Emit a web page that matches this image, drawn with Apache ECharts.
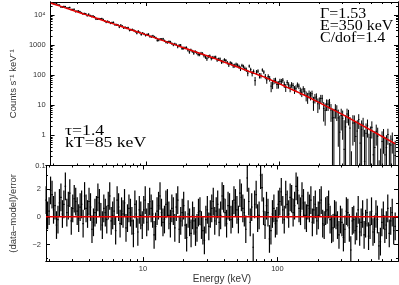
<!DOCTYPE html>
<html><head><meta charset="utf-8">
<script src="https://cdn.jsdelivr.net/npm/echarts@6/dist/echarts.min.js"></script>
<style>html,body{margin:0;padding:0;background:#fff}#c{width:399px;height:285px}</style>
</head><body><div id="c"></div>
<script>
// ---- data (energies and counts stored as log10 values) ----
const energyLog10 = [
0.280,0.291,0.302,0.313,0.324,0.335,0.346,0.357,0.368,0.379,0.390,0.401,0.412,0.423,0.434,0.445,0.456,0.467,0.478,0.489,
0.500,0.511,0.522,0.533,0.544,0.555,0.566,0.577,0.588,0.599,0.610,0.621,0.632,0.643,0.654,0.665,0.676,0.687,0.698,0.709,
0.720,0.731,0.742,0.753,0.764,0.775,0.786,0.797,0.808,0.819,0.830,0.841,0.852,0.863,0.874,0.885,0.896,0.907,0.918,0.929,
0.940,0.951,0.962,0.973,0.984,0.995,1.006,1.017,1.028,1.039,1.050,1.061,1.072,1.083,1.094,1.105,1.116,1.127,1.138,1.149,
1.160,1.171,1.182,1.193,1.204,1.215,1.226,1.237,1.248,1.259,1.270,1.281,1.292,1.303,1.314,1.325,1.336,1.347,1.358,1.369,
1.380,1.391,1.402,1.413,1.424,1.435,1.446,1.457,1.468,1.479,1.490,1.501,1.512,1.523,1.534,1.545,1.556,1.567,1.578,1.589,
1.600,1.611,1.622,1.633,1.644,1.655,1.666,1.677,1.688,1.699,1.710,1.721,1.732,1.743,1.754,1.765,1.776,1.787,1.798,1.809,
1.820,1.831,1.842,1.853,1.864,1.875,1.886,1.897,1.908,1.919,1.930,1.941,1.952,1.963,1.974,1.985,1.996,2.007,2.018,2.029,
2.040,2.051,2.062,2.073,2.084,2.095,2.106,2.117,2.128,2.139,2.150,2.161,2.172,2.183,2.194,2.205,2.216,2.227,2.238,2.249,
2.260,2.271,2.282,2.293,2.304,2.315,2.326,2.337,2.348,2.359,2.370,2.381,2.392,2.403,2.414,2.425,2.436,2.447,2.458,2.469,
2.480,2.491,2.502,2.513,2.524,2.535,2.546,2.557,2.568,2.579,2.590,2.601,2.612,2.623,2.634,2.645,2.656,2.667,2.678,2.689,
2.700,2.711,2.722,2.733,2.744,2.755,2.766,2.777,2.788,2.799,2.810,2.821,2.832,2.843,2.854,2.865,2.876];
const modelLog10Counts = [
4.398,4.382,4.366,4.350,4.333,4.317,4.301,4.285,4.269,4.253,4.236,4.220,4.204,4.188,4.172,4.156,4.139,4.123,4.107,4.091,
4.075,4.059,4.042,4.026,4.010,3.994,3.978,3.962,3.946,3.930,3.913,3.897,3.881,3.865,3.849,3.833,3.816,3.800,3.784,3.768,
3.752,3.736,3.719,3.703,3.687,3.671,3.655,3.639,3.622,3.606,3.590,3.574,3.558,3.542,3.525,3.509,3.493,3.477,3.461,3.445,
3.428,3.412,3.396,3.380,3.364,3.348,3.331,3.315,3.298,3.281,3.264,3.248,3.231,3.214,3.197,3.181,3.164,3.148,3.131,3.114,
3.097,3.081,3.064,3.047,3.030,3.014,2.997,2.980,2.963,2.947,2.930,2.913,2.896,2.880,2.863,2.846,2.829,2.813,2.796,2.779,
2.762,2.746,2.729,2.713,2.696,2.679,2.662,2.646,2.629,2.612,2.595,2.578,2.560,2.542,2.524,2.506,2.487,2.469,2.451,2.433,
2.415,2.397,2.378,2.360,2.342,2.324,2.306,2.288,2.270,2.252,2.233,2.215,2.197,2.179,2.161,2.143,2.124,2.106,2.088,2.070,
2.052,2.034,2.015,1.997,1.979,1.961,1.943,1.924,1.904,1.882,1.860,1.838,1.816,1.794,1.772,1.750,1.728,1.706,1.684,1.662,
1.640,1.618,1.596,1.574,1.552,1.530,1.508,1.486,1.464,1.442,1.420,1.398,1.376,1.354,1.332,1.308,1.284,1.260,1.235,1.210,
1.185,1.161,1.136,1.111,1.086,1.062,1.037,1.012,0.987,0.963,0.938,0.913,0.888,0.864,0.839,0.814,0.789,0.765,0.740,0.715,
0.690,0.665,0.640,0.613,0.586,0.559,0.532,0.505,0.478,0.451,0.424,0.397,0.370,0.344,0.317,0.290,0.263,0.236,0.209,0.182,
0.155,0.128,0.101,0.074,0.047,0.020,-0.007,-0.034,-0.061,-0.088,-0.115,-0.142,-0.169,-0.196,-0.223,-0.250,-0.277];
const residuals = [
1.2,0.1,0.4,1.9,1.6,0.5,0.8,-0.6,-0.2,1.0,1.4,0.2,0.9,2.2,0.3,0.8,1.7,-0.3,0.6,1.3,
1.1,0.4,-0.1,0.7,0.9,-0.5,1.5,0.6,0.2,1.1,0.7,-0.9,-0.4,0.3,0.5,1.4,1.0,0.0,-0.6,0.6,
0.3,-0.2,0.8,1.5,-0.3,0.1,0.4,-1.0,1.2,0.7,-0.5,0.4,0.2,1.0,-0.8,-0.1,0.6,0.3,-0.3,-1.2,
0.9,0.2,-1.1,0.5,0.1,-0.6,0.5,1.2,-0.4,0.0,1.1,0.6,0.2,-1.3,-0.7,0.4,0.8,1.5,0.3,-0.4,
-0.2,0.9,1.0,0.1,-0.5,0.6,0.4,-0.8,0.7,1.2,-0.9,-0.3,0.3,0.8,-0.6,-1.5,0.2,-0.4,-1.2,0.1,
-0.3,-1.1,-0.8,0.3,0.4,-0.6,-1.0,-1.7,-0.2,0.5,-0.7,0.2,0.6,1.1,-0.3,0.4,0.9,-0.4,0.1,1.5,
1.3,0.3,-0.5,0.8,0.7,-0.2,0.2,1.2,1.0,0.5,-0.2,1.7,1.4,0.6,0.3,-0.9,2.8,1.1,-0.4,0.7,
-2.2,0.9,1.6,-0.1,0.1,3.0,2.1,0.4,-0.6,0.8,0.3,-1.6,-1.0,0.2,0.6,-0.5,-0.3,0.9,1.1,1.8,
0.5,-0.2,1.6,0.9,0.2,1.4,1.3,0.3,0.8,2.2,1.9,0.6,0.4,1.5,1.0,0.1,-0.1,0.8,0.6,1.2,
-0.4,0.5,0.9,-0.3,0.1,1.0,1.2,-0.5,-0.6,0.4,0.5,0.9,-0.2,-0.9,-0.8,0.2,0.1,-0.6,-1.3,-0.2,
-0.4,-1.5,-0.9,0.4,0.3,-0.8,-2.4,-0.3,-0.2,-1.0,-0.7,0.5,-1.1,-0.4,0.2,-1.3,-0.5,0.3,-1.4,-0.6,
0.4,-1.1,-0.9,0.2,-0.2,-2.1,-1.8,-0.4,0.1,-0.9,-0.6,0.6,-1.2,-0.3,0.3,-1.0,-0.7];
const relError = [
0.065,0.065,0.066,0.066,0.066,0.067,0.067,0.067,0.068,0.068,0.068,0.069,0.069,0.069,0.070,0.070,0.070,0.071,0.071,0.071,
0.072,0.072,0.072,0.073,0.073,0.073,0.074,0.074,0.074,0.075,0.075,0.075,0.076,0.076,0.076,0.077,0.077,0.077,0.078,0.078,
0.078,0.079,0.079,0.079,0.080,0.080,0.080,0.081,0.081,0.081,0.082,0.082,0.082,0.083,0.083,0.083,0.084,0.084,0.084,0.085,
0.085,0.085,0.086,0.086,0.087,0.087,0.088,0.088,0.089,0.089,0.090,0.090,0.091,0.091,0.092,0.092,0.093,0.093,0.094,0.094,
0.095,0.096,0.097,0.097,0.098,0.099,0.100,0.101,0.101,0.102,0.103,0.104,0.105,0.106,0.107,0.107,0.108,0.109,0.110,0.111,
0.112,0.113,0.115,0.116,0.118,0.119,0.121,0.122,0.124,0.125,0.127,0.128,0.130,0.131,0.133,0.134,0.136,0.137,0.139,0.140,
0.142,0.144,0.146,0.149,0.151,0.153,0.156,0.158,0.160,0.163,0.165,0.168,0.170,0.173,0.175,0.178,0.180,0.183,0.185,0.187,
0.189,0.193,0.197,0.201,0.205,0.209,0.213,0.217,0.221,0.225,0.229,0.233,0.237,0.241,0.245,0.250,0.254,0.258,0.262,0.266,
0.270,0.277,0.284,0.291,0.298,0.305,0.312,0.319,0.326,0.333,0.340,0.347,0.354,0.361,0.368,0.375,0.382,0.389,0.396,0.403,
0.410,0.420,0.430,0.440,0.450,0.460,0.470,0.480,0.490,0.500,0.510,0.520,0.530,0.540,0.550,0.560,0.570,0.580,0.590,0.600,
0.610,0.617,0.624,0.631,0.638,0.645,0.652,0.659,0.666,0.673,0.680,0.687,0.694,0.701,0.708,0.715,0.722,0.729,0.736,0.743,
0.750,0.756,0.762,0.768,0.774,0.780,0.786,0.792,0.798,0.804,0.810,0.816,0.822,0.828,0.834,0.840,0.846];

const xTickKeV = [10, 100];
const xMinorKeV = [2,3,4,5,6,7,8,9,20,30,40,50,60,70,80,90,200,300,400,500,600,700];
const yTickCounts = [0.1, 1, 10, 100, 1000, 10000];
const yTickLabels = ['0.1', '1', '10', '100', '1000', '10\u2074'];
const yMinorCounts = [0.2,0.3,0.4,0.5,0.6,0.7,0.8,0.9,2,3,4,5,6,7,8,9,20,30,40,50,60,70,80,90,
  200,300,400,500,600,700,800,900,2000,3000,4000,5000,6000,7000,8000,9000,20000];
const residTicks = [-2, 0, 2];
const residTickLabels = ['\u22122', '0', '2'];
const residMinor = [-3, -1, 1, 3];

// ---- axis ranges ----
const X_RANGE = [0.279, 2.897];
const Y_TOP_RANGE = [-1, 4.43];
const Y_RES_RANGE = [-3.2, 3.7];
const HALF_BIN = 0.0055;

const lg = v => Math.log10(v);
const xMajor = xTickKeV.map(lg), xMinor = xMinorKeV.map(lg);
const yMajor = yTickCounts.map(lg), yMinor = yMinorCounts.map(lg).filter(v => v <= Y_TOP_RANGE[1]);

const topBars = energyLog10.map((x, i) => {
  const m = Math.pow(10, modelLog10Counts[i]);
  const err = m * relError[i];
  const c = m + residuals[i] * err;
  const lo = c - err, hi = c + err;
  return [x, lo > 0 ? lg(lo) : Y_TOP_RANGE[0], hi > 0 ? lg(hi) : Y_TOP_RANGE[0], c > 0 ? lg(c) : Y_TOP_RANGE[0], c > 0 ? 1 : 0];
});
const resBars = energyLog10.map((x, i) => [x, residuals[i] - 1, residuals[i] + 1, residuals[i], 1]);
const modelLine = energyLog10.map((x, i) => [x, modelLog10Counts[i]]);

const FONT = 'Liberation Sans';
const TXT = '#333';

function makeAxis(gridIndex, position, range, ticks, len, extra) {
  return Object.assign({
    type: 'value', gridIndex, position, min: range[0], max: range[1],
    splitLine: { show: false },
    axisLine: { show: true, onZero: false, lineStyle: { color: '#000', width: 1 } },
    axisTick: { show: true, inside: true, length: len, customValues: ticks, lineStyle: { color: '#000', width: 1 } },
    axisLabel: { show: false }
  }, extra || {});
}
function labelFor(vals, labels) {
  return v => { for (let i = 0; i < vals.length; i++) if (Math.abs(vals[i] - v) < 1e-6) return labels[i]; return ''; };
}

function renderBars(yRange, width, color) {
  return function (params, api) {
    const x = api.value(0);
    const lo = Math.max(api.value(1), yRange[0]);
    const hi = Math.min(api.value(2), yRange[1]);
    const kids = [];
    const st = { stroke: color, lineWidth: width };
    if (hi > lo) {
      const a = api.coord([x, lo]), b = api.coord([x, hi]);
      kids.push({ type: 'line', shape: { x1: a[0], y1: a[1], x2: b[0], y2: b[1] }, style: st });
    }
    const v = api.value(3);
    if (api.value(4) > 0 && v >= yRange[0] && v <= yRange[1]) {
      const a = api.coord([x - HALF_BIN, v]), b = api.coord([x + HALF_BIN, v]);
      kids.push({ type: 'line', shape: { x1: a[0], y1: a[1], x2: b[0], y2: b[1] }, style: st });
    }
    return { type: 'group', children: kids };
  };
}

const labelStyle = { show: true, color: TXT, fontSize: 7.5, fontFamily: FONT };
const ANN_FONT = '14.5px "Liberation Serif"';
function annot(text, x, y, sx) {
  return { type: 'text', x, y, scaleX: sx, z: 10,
    style: { text, font: ANN_FONT, fill: '#000', textAlign: 'left', textVerticalAlign: 'middle' } };
}

const option = {
  animation: false,
  backgroundColor: '#fff',
  grid: [
    { left: 42, top: 2, width: 356, height: 163.5 },
    { left: 42, top: 165.5, width: 356, height: 98.5 }
  ],
  xAxis: [
    makeAxis(0, 'bottom', X_RANGE, xMajor, 4),
    makeAxis(0, 'top', X_RANGE, xMajor, 4),
    makeAxis(0, 'bottom', X_RANGE, xMinor, 2),
    makeAxis(0, 'top', X_RANGE, xMinor, 2),
    makeAxis(1, 'bottom', X_RANGE, xMajor, 4, {
      axisLabel: Object.assign({}, labelStyle, { customValues: xMajor, margin: 4, formatter: labelFor(xMajor, xTickKeV.map(String)) }),
      name: 'Energy (keV)', nameLocation: 'middle', nameGap: 11,
      nameTextStyle: { color: TXT, fontSize: 10, fontFamily: FONT }
    }),
    makeAxis(1, 'top', X_RANGE, xMajor, 4),
    makeAxis(1, 'bottom', X_RANGE, xMinor, 2),
    makeAxis(1, 'top', X_RANGE, xMinor, 2)
  ],
  yAxis: [
    makeAxis(0, 'left', Y_TOP_RANGE, yMajor, 4, {
      axisLabel: Object.assign({}, labelStyle, { customValues: yMajor, margin: 5, formatter: labelFor(yMajor, yTickLabels) }),
      name: 'Counts s\u207B\u00B9 keV\u207B\u00B9', nameLocation: 'middle', nameGap: 28, nameRotate: 90,
      nameTextStyle: { color: TXT, fontSize: 9.5, fontFamily: FONT }
    }),
    makeAxis(0, 'right', Y_TOP_RANGE, yMajor, 4),
    makeAxis(0, 'left', Y_TOP_RANGE, yMinor, 2),
    makeAxis(0, 'right', Y_TOP_RANGE, yMinor, 2),
    makeAxis(1, 'left', Y_RES_RANGE, residTicks, 4, {
      axisLabel: Object.assign({}, labelStyle, { customValues: residTicks, margin: 5, formatter: labelFor(residTicks, residTickLabels) }),
      name: '(data\u2013model)/error', nameLocation: 'middle', nameGap: 28, nameRotate: 90,
      nameTextStyle: { color: TXT, fontSize: 9.5, fontFamily: FONT }
    }),
    makeAxis(1, 'right', Y_RES_RANGE, residTicks, 4),
    makeAxis(1, 'left', Y_RES_RANGE, residMinor, 2),
    makeAxis(1, 'right', Y_RES_RANGE, residMinor, 2)
  ],
  series: [
    { type: 'custom', xAxisIndex: 0, yAxisIndex: 0, data: topBars, renderItem: renderBars(Y_TOP_RANGE, 1, '#000'), z: 2, silent: true },
    { type: 'line', xAxisIndex: 0, yAxisIndex: 0, data: modelLine, showSymbol: false, symbol: 'none',
      lineStyle: { color: '#e60000', width: 1.5 }, z: 3, silent: true },
    { type: 'custom', xAxisIndex: 4, yAxisIndex: 4, data: resBars, renderItem: renderBars(Y_RES_RANGE, 1.2, '#000'), z: 2, silent: true },
    { type: 'line', xAxisIndex: 4, yAxisIndex: 4, data: [[X_RANGE[0], 0], [X_RANGE[1], 0]], showSymbol: false, symbol: 'none',
      lineStyle: { color: '#e60000', width: 1.5 }, z: 3, silent: true }
  ],
  graphic: [
    annot('\u0393=1.53', 320, 14.5, 1.1),
    annot('E=350 keV', 320, 26.5, 1.1),
    annot('C/dof=1.4', 320, 38.5, 1.1),
    annot('\u03C4=1.4', 65, 131, 1.22),
    annot('kT=85 keV', 65, 143.5, 1.22)
  ]
};

const chart = echarts.init(document.getElementById('c'), null, { renderer: 'canvas' });
chart.setOption(option);
</script>
</body></html>
